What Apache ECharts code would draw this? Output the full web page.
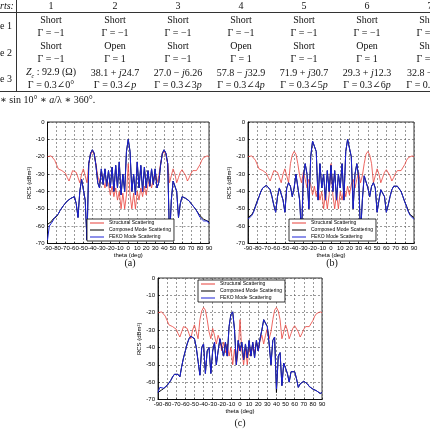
<!DOCTYPE html>
<html lang="en">
<head>
<meta charset="UTF-8">
<title>RCS comparison</title>
<script src="https://cdn.jsdelivr.net/npm/echarts@6/dist/echarts.min.js"></script>
<style>
  html, body { margin: 0; padding: 0; background: #fff; overflow: hidden; }
  #page { position: relative; width: 430px; height: 429px; overflow: hidden; }
  #mychart { position: absolute; left: 0; top: 0; width: 430px; height: 429px; }
  .t { position: absolute; transform: translate(-50%, -50%); white-space: nowrap;
       font-family: "Liberation Serif", "DejaVu Serif", serif; font-size: 10px; color: #111; }
  .l { position: absolute; transform: translateY(-50%); white-space: nowrap;
       font-family: "Liberation Serif", "DejaVu Serif", serif; font-size: 10px; color: #111; }
  .hl { position: absolute; background: #333; }
</style>
</head>
<body>
<div id="page">
  <div id="mychart"></div>
</div>
<script>
    // angles (deg)
    var theta = [-90,-88,-86,-84,-82,-80,-78,-76,-74,-72,-70,-68,-66,-64,-62,-60,-58,-56,-54,-52,
        -50,-48,-46,-44,-42,-40,-38,-36,-34,-32,-30,-28,-26,-24,-22,-20,-18,-16,-14,-12,
        -10,-8,-6,-4,-2,0,2,4,6,8,10,12,14,16,18,20,22,24,26,28,30,32,34,36,38,40,42,44,46,48,
        50,52,54,56,58,60,62,64,66,68,70,72,74,76,78,80,82,84,86,88,90];

    // structural scattering (same in all three plots)
    var structural = [-20,-19.5,-19.5,-20.5,-22,-24.5,-27,-28,-28,-28,-29.5,-32,-34,-31,-28,-27.5,-29,-32,-35,-30,
        -27,-31,-35,-24,-19,-17,-18.5,-24,-31,-35,-29,-33,-38,-33,-36,-42,-37,-43,-38,-45,
        -40,-50,-41,-50,-42,-24,
        -42,-50,-41,-50,-40,-45,-38,-43,-37,-42,-36,-33,-38,-33,-29,-35,-31,-24,-18.5,-17,
        -19,-24,-35,-31,-27,-30,-35,-32,-29,-27.5,-28,-31,-34,-32,-29.5,-28,-28,-28,-27,-24.5,
        -22,-20.5,-19.5,-19.5,-20];

    // (a)
    var fekoA = [-68,-60,-61,-57,-55,-55,-53,-51,-49.5,-48,-47,-45.5,-44.5,-44,-43.5,-43,-47,-55,-40,-33,
        -34,-45,-68,-24,-18,-16,-18,-25,-35,-38,-27,-36,-27,-37,-28,-38,-26,-40,-25,-38,
        -23,-42,-30,-40,-17,-10,
        -17,-40,-30,-42,-23,-38,-25,-40,-26,-38,-28,-37,-27,-36,-27,-38,-35,-25,-18,-16,
        -18,-24,-68,-45,-34,-33,-40,-55,-47,-43,-43.5,-44,-44.5,-45.5,-47,-48,-49.5,-51,-53,-55,
        -55,-57,-56,-57,-58.5];
    var composedA = [-59,-58.5,-57.5,-56,-55,-54.5,-53,-51,-49.5,-48,-47,-45.5,-44.5,-44,-43.5,-43,-47,-55,-40,-33,
        -34,-45,-68,-24,-18,-16,-18,-25,-35,-38,-27,-36,-27,-37,-28,-38,-26,-40,-25,-38,
        -23,-42,-30,-40,-17,-10,
        -17,-40,-30,-42,-23,-38,-25,-40,-26,-38,-28,-37,-27,-36,-27,-38,-35,-25,-18,-16,
        -18,-24,-68,-45,-34,-33,-40,-55,-47,-43,-43.5,-44,-44.5,-45.5,-47,-48,-49.5,-51,-52.5,-54,
        -55,-56,-56,-57,-57.5];

    // (b)
    var fekoB = [-56,-55,-54,-52,-49,-46,-43,-40,-38,-37,-36.5,-37,-39,-43,-48,-52,-43,-38,-39,-45,
        -52,-38,-35,-37,-43,-38,-30,-31,-45,-65,-32,-24,-30,-50,-20,-11,-10,-17,-45,-24,
        -38,-30,-45,-28,-40,-25,
        -40,-28,-45,-30,-38,-24,-45,-17,-10,-11,-20,-50,-30,-24,-32,-65,-45,-31,-30,-38,
        -43,-37,-35,-38,-52,-45,-39,-38,-43,-52,-48,-43,-39,-37,-36.5,-37,-38,-40,-43,-46,
        -49,-52,-54,-55,-56];
    var composedB = [-55,-54.5,-53.5,-51.5,-48.5,-45.5,-43,-40,-38,-37,-36.5,-37,-39,-43,-48,-52,-43,-38,-39,-45,
        -52,-38,-35,-37,-43,-38,-30,-31,-45,-65,-32,-24,-30,-50,-20,-11,-10,-17,-45,-24,
        -38,-30,-45,-28,-40,-25,
        -40,-28,-45,-30,-38,-24,-45,-17,-10,-11,-20,-50,-30,-24,-32,-65,-45,-31,-30,-38,
        -43,-37,-35,-38,-52,-45,-39,-38,-43,-52,-48,-43,-39,-37,-36.5,-37,-38,-40,-43,-46,
        -48.5,-51.5,-53.5,-54.5,-55];

    // (c)
    var fekoC = [-66,-63,-64,-63.5,-63,-62,-60.5,-59,-57,-55.5,-55,-55.5,-57,-51,-46,-42,-38,-35,-33.5,-33,
        -35,-40,-48,-56,-40,-38,-55,-42,-40,-55,-42,-37,-50,-42,-35,-40,-45,-37,-45,-28,
        -21,-19.5,-30,-50,-36,-42,
        -37,-47,-38,-46,-36,-45,-37,-46,-36,-42,-35,-30,-24,-23,-28,-38,-50,-36,-34,-64,
        -45,-43,-62,-49,-48,-55,-60,-54,-53,-54,-58,-63,-61,-60,-59.5,-60,-61,-62.5,-63.5,-64,
        -64.5,-65,-65.5,-66.5,-66];
    var composedC = [-66,-65,-64.5,-64,-63,-62,-60.5,-59,-57,-55.5,-55,-55.5,-57,-51,-46,-42,-38,-35,-33.5,-33,
        -35,-40,-48,-56,-40,-38,-55,-42,-40,-55,-42,-37,-50,-42,-35,-40,-45,-37,-45,-28,
        -21,-19.5,-30,-50,-36,-42,
        -37,-47,-38,-46,-36,-45,-37,-46,-36,-42,-35,-30,-24,-23,-28,-38,-50,-36,-34,-66,
        -45,-43,-62,-49,-48,-55,-60,-54,-53,-54,-58,-63,-61,-60,-59.5,-60,-61,-62.5,-63.5,-64,
        -64.5,-65,-65.5,-66.5,-66];

    var xTicks = [-90, 90, 10];
    var yTicks = [-70, 0, 10];
    var names = ['Structural Scattering', 'Composed Mode Scattering', 'FEKO Mode Scattering'];

    // table text
    var colX = [51, 115, 178, 241, 304, 367, 430];
    var tableRows = [
        {y: 5, cells: ['1', '2', '3', '4', '5', '6', '7']},
        {y: 19, cells: ['Short', 'Short', 'Short', 'Short', 'Short', 'Short', 'Short']},
        {y: 32, cells: ['Γ = −1', 'Γ = −1', 'Γ = −1', 'Γ = −1', 'Γ = −1', 'Γ = −1', 'Γ = −1']},
        {y: 45, cells: ['Short', 'Open', 'Short', 'Open', 'Short', 'Open', 'Short']},
        {y: 58, cells: ['Γ = −1', 'Γ = 1', 'Γ = −1', 'Γ = 1', 'Γ = −1', 'Γ = 1', 'Γ = −1']},
        {y: 72, cells: ['<i>Z<sub style="font-size:6px">c</sub></i> : 92.9 (Ω)', '38.1 + <i>j</i>24.7', '27.0 − <i>j</i>6.26',
            '57.8 − <i>j</i>32.9', '71.9 + <i>j</i>30.7', '29.3 + <i>j</i>12.3', '']},
        {y: 84, cells: ['Γ = 0.3∠0°', 'Γ = 0.3∠<i>p</i>', 'Γ = 0.3∠3<i>p</i>', 'Γ = 0.3∠4<i>p</i>',
            'Γ = 0.3∠5<i>p</i>', 'Γ = 0.3∠6<i>p</i>', 'Γ = 0.3∠7<i>p</i>']}
    ];
    var leftLabels = [{y: 5, text: '<i>rts:</i>'}, {y: 25, text: 'e 1'}, {y: 52, text: 'e 2'}, {y: 78, text: 'e 3'},
        {y: 99, text: '∗ sin 10° ∗ <i>a</i>/λ ∗ 360°.'}, {y: 72, x: 407, text: '32.8 −'}];
    var captions = [{x: 130, y: 262, text: '(a)'}, {x: 332, y: 262, text: '(b)'}, {x: 240, y: 422, text: '(c)'}];

    var page = document.getElementById('page');
    function addDiv(cls, x, y, html) {
        var d = document.createElement('div');
        d.className = cls;
        d.style.left = x + 'px';
        d.style.top = y + 'px';
        d.innerHTML = html;
        page.appendChild(d);
        return d;
    }
    for (var r = 0; r < tableRows.length; r++) {
        for (var c = 0; c < colX.length; c++) {
            if (tableRows[r].cells[c]) addDiv('t', colX[c], tableRows[r].y, tableRows[r].cells[c]);
        }
    }
    for (var k = 0; k < leftLabels.length; k++) {
        addDiv('l', leftLabels[k].x || 0, leftLabels[k].y, leftLabels[k].text);
    }
    for (var k = 0; k < captions.length; k++) {
        addDiv('t', captions[k].x, captions[k].y, captions[k].text).style.fontSize = '10px';
    }
    // table rules
    var h1 = addDiv('hl', 0, 11.5, ''); h1.style.width = '430px'; h1.style.height = '1px';
    var h2 = addDiv('hl', 0, 90.5, ''); h2.style.width = '430px'; h2.style.height = '1px';
    var v1 = addDiv('hl', 16, 0, ''); v1.style.width = '1px'; v1.style.height = '91px';

    function pairs(vals) {
        return theta.map(function (t, i) { return [t, vals[i]]; });
    }

    var grids = [
        {left: 47.5, top: 122, width: 161.5, height: 121.5},
        {left: 248, top: 122, width: 166, height: 121.5},
        {left: 158, top: 278, width: 164, height: 121.5}
    ];
    var legendPos = [{left: 87, top: 219}, {left: 289, top: 219}, {left: 198, top: 280}];
    var dataSets = [[structural, composedA, fekoA], [structural, composedB, fekoB], [structural, composedC, fekoC]];
    var colors = ['#e8403a', '#000000', '#1c22d6'];
    var widths = [0.8, 1, 1];
    // thin line legend marker (tiny end triangles keep the bar thin inside the 14x6 box)
    var lineIcon = 'path://M0,0L14,0L14,0.01Z M0,2.6L14,2.6L14,3.4L0,3.4Z M0,6L14,6L14,5.99Z';

    var font = 'Liberation Sans';
    var op = {
        animation: false,
        grid: [], xAxis: [], yAxis: [], legend: [], series: []
    };
    for (var g = 0; g < 3; g++) {
        var gr = grids[g];
        op.grid.push({left: gr.left, top: gr.top, width: gr.width, height: gr.height,
            show: true, borderColor: '#000', borderWidth: 0.8, backgroundColor: '#fff'});
        op.xAxis.push({
            type: 'value', gridIndex: g, min: xTicks[0], max: xTicks[1], interval: xTicks[2],
            name: 'theta (deg)', nameLocation: 'middle', nameGap: 8,
            nameTextStyle: {fontSize: 6, fontFamily: font, color: '#000'},
            axisLine: {show: true, onZero: false, lineStyle: {color: '#000', width: 0.8}},
            axisTick: {show: true, inside: true, length: 2, lineStyle: {color: '#000', width: 0.6}},
            axisLabel: {fontSize: 6, fontFamily: font, color: '#000', margin: 2, hideOverlap: false},
            splitLine: {show: true, lineStyle: {color: '#555', width: 0.6, type: [2, 2]}}
        });
        op.yAxis.push({
            type: 'value', gridIndex: g, min: yTicks[0], max: yTicks[1], interval: yTicks[2],
            name: 'RCS (dBm²)', nameLocation: 'middle', nameGap: 15, nameRotate: 90,
            nameTextStyle: {fontSize: 6, fontFamily: font, color: '#000'},
            axisLine: {show: true, onZero: false, lineStyle: {color: '#000', width: 0.8}},
            axisTick: {show: true, inside: true, length: 2, lineStyle: {color: '#000', width: 0.6}},
            axisLabel: {fontSize: 6, fontFamily: font, color: '#000', margin: 3},
            splitLine: {show: true, lineStyle: {color: '#555', width: 0.6, type: [2, 2]}}
        });
        op.legend.push({
            left: legendPos[g].left, top: legendPos[g].top, orient: 'vertical',
            itemWidth: 14, itemHeight: 6, itemGap: 1, padding: [1, 3, 1, 3],
            backgroundColor: '#fff', borderColor: '#000', borderWidth: 0.8, borderRadius: 0,
            selectedMode: false, icon: lineIcon,
            textStyle: {fontSize: 5, fontFamily: font, color: '#000'},
            data: names
        });
        for (var s = 0; s < 3; s++) {
            op.series.push({
                name: names[s], type: 'line', xAxisIndex: g, yAxisIndex: g,
                symbol: 'none', smooth: false,
                lineStyle: {color: colors[s], width: widths[s]},
                itemStyle: {color: colors[s]},
                data: pairs(dataSets[g][s])
            });
        }
    }

    var e = echarts.init(document.getElementById('mychart'), null, {renderer: 'canvas'});
    e.setOption(op);
</script>
</body>
</html>
